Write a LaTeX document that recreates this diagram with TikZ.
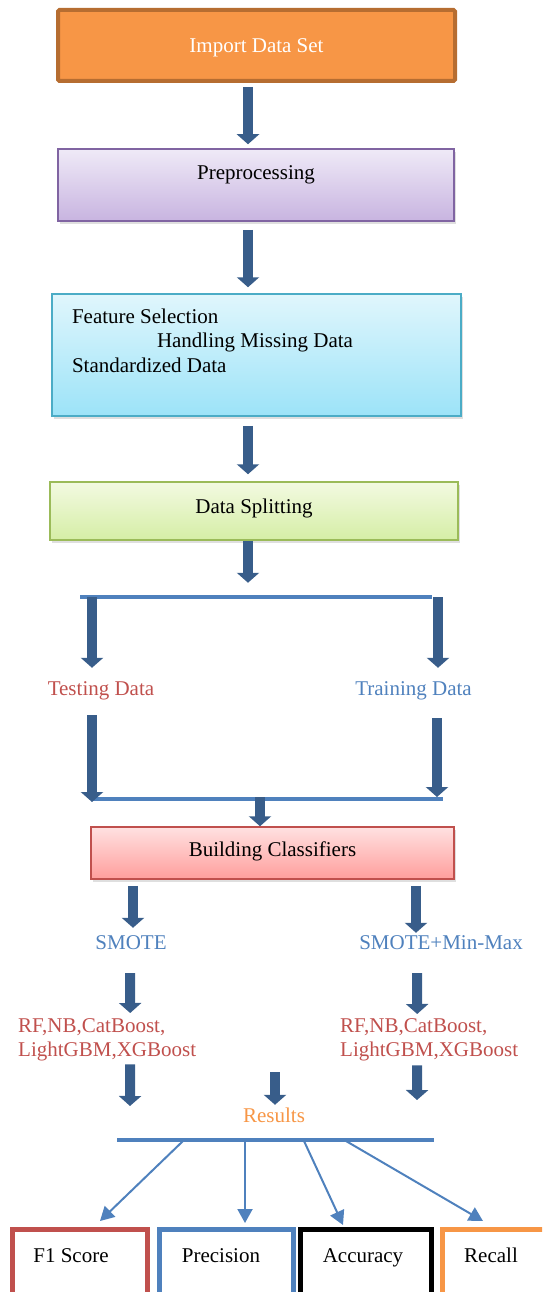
\documentclass[tikz,border=0pt]{standalone}
\usepackage{fontspec}
\setmainfont{Liberation Serif}
\usetikzlibrary{arrows.meta, shadows}

\definecolor{arrowblue}{HTML}{385D8A}
\definecolor{lineblue}{HTML}{4F81BD}
\definecolor{labelred}{HTML}{C0504D}
\definecolor{importfill}{HTML}{F79646}
\definecolor{importedge}{HTML}{B66D31}
\definecolor{prepedge}{HTML}{8064A2}
\definecolor{preptop}{HTML}{EFEAF7}
\definecolor{prepbot}{HTML}{C8B4E0}
\definecolor{featedge}{HTML}{4BACC6}
\definecolor{feattop}{HTML}{E0F6FC}
\definecolor{featbot}{HTML}{9CE3F8}
\definecolor{splitedge}{HTML}{9BBB59}
\definecolor{splittop}{HTML}{F3FAE1}
\definecolor{splitbot}{HTML}{D5EEA6}
\definecolor{buildtop}{HTML}{FFE1E1}
\definecolor{buildbot}{HTML}{FF9E9C}

\begin{document}
\begin{tikzpicture}[x=1pt, y=-1pt, font=\fontsize{21}{24.5}\selectfont,
    box/.style={rectangle, inner sep=0pt, text height=14pt},
    shadebox/.style={box, line width=1.5pt, drop shadow={shadow xshift=2pt, shadow yshift=-3pt, opacity=0.25}},
    block/.style={draw=arrowblue, line width=10pt, -{Triangle[width=22pt,length=10pt]}},
    bus/.style={draw=lineblue, line width=3.5pt},
    pointer/.style={draw=lineblue, line width=2pt, -{Triangle[width=15pt,length=14pt]}},
    tag/.style={inner sep=0pt, text height=14pt, text depth=0pt},
    metric/.style={box, fill=white, line width=5pt, minimum height=90pt, text depth=39pt}]
  \useasboundingbox (0,0) rectangle (542,1292);
  \clip (0,0) rectangle (542,1292);

  \node[box, fill=importfill, draw=importedge, line width=4pt, rounded corners=1.5pt, minimum width=397pt, minimum height=71pt, text=white, text depth=0pt] (import) at (256.5,45.5) {Import Data Set};
  \node[shadebox, draw=prepedge, top color=preptop, bottom color=prepbot, minimum width=396pt, minimum height=72pt, text depth=26pt] (prep) at (256,185) {Preprocessing};
  \node[shadebox, draw=featedge, top color=feattop, bottom color=featbot, minimum width=409pt, minimum height=122pt, text width=369pt, align=left, text depth=78pt] (feat) at (256.5,355) {\spaceskip=0.25em\relax Feature Selection\\\hspace*{85pt}Handling Missing Data\\Standardized Data};
  \node[shadebox, draw=splitedge, top color=splittop, bottom color=splitbot, minimum width=408pt, minimum height=58pt, text depth=10pt] (split) at (254,511) {Data Splitting};

  \node[tag, text=labelred] (test) at (101,688) {Testing Data};
  \node[tag, text=lineblue] (train) at (413.5,688) {Training Data};
  \node[shadebox, draw=labelred, top color=buildtop, bottom color=buildbot, minimum width=363pt, minimum height=52pt, text depth=8pt] (build) at (272.5,853) {Building Classifiers};

  \node[tag, text=lineblue] (smote) at (131,942) {SMOTE};
  \node[tag, text=lineblue] (smotemm) at (441,942) {SMOTE+Min-Max};
  \node[tag, text=labelred, text depth=25pt, text width=200pt, align=left, anchor=north west] (modelsL) at (18,1018) {RF,NB,CatBoost,\\LightGBM,XGBoost};
  \node[tag, text=labelred, text depth=25pt, text width=200pt, align=left, anchor=north west] (modelsR) at (340,1018) {RF,NB,CatBoost,\\LightGBM,XGBoost};
  \node[tag, text=importfill] (results) at (274,1115) {Results};

  \node[metric, draw=labelred, minimum width=135pt] (f1) at (80,1274.5) {F1 Score\hspace*{18pt}};
  \node[metric, draw=lineblue, minimum width=134pt] (prec) at (226.5,1274.5) {Precision\hspace*{11pt}};
  \node[metric, draw=black, minimum width=131pt] (acc) at (366,1274.5) {Accuracy\hspace*{6pt}};
  \node[metric, draw=importfill, minimum width=103pt] (rec) at (494,1274.5) {Recall\hspace*{6pt}};

  \coordinate (forkL) at (80,597);
  \coordinate (forkR) at (432,597);
  \coordinate (testIn) at (92,597);
  \coordinate (trainIn) at (438,597);
  \coordinate (mergeL) at (92,799);
  \coordinate (mergeR) at (443,799);
  \coordinate (mergeM) at (260,797);
  \coordinate (outL) at (130,1106);
  \coordinate (outM) at (275,1072);
  \coordinate (outR) at (417,1100);
  \coordinate (sumL) at (117,1140);
  \coordinate (sumR) at (434,1140);
  \coordinate (tapA) at (183,1141);
  \coordinate (tapB) at (245,1141);
  \coordinate (tapC) at (304,1141);
  \coordinate (tapD) at (346,1141);

  \draw[bus] (forkL) -- (forkR);
  \draw[bus] (mergeL) -- (mergeR);
  \draw[bus] (sumL) -- (sumR);

  \draw[block] ([xshift=-8.5pt,yshift=-4pt]import.south) -- ([xshift=-8pt,yshift=4pt]prep.north);
  \draw[block] ([xshift=-8pt,yshift=-8pt]prep.south) -- ([xshift=-8.5pt,yshift=6pt]feat.north);
  \draw[block] ([xshift=-8.5pt,yshift=-9pt]feat.south) -- ([xshift=-6pt,yshift=7pt]split.north);
  \draw[block] ([xshift=-6pt]split.south) -- ([xshift=-6pt,yshift=-42pt]split.south);
  \draw[block] (testIn) -- ([xshift=-9pt,yshift=13pt]test.north);
  \draw[block] (trainIn) -- ([xshift=24.5pt,yshift=13pt]train.north);
  \draw[block] ([xshift=-9pt,yshift=-20pt]test.south) -- ([yshift=-3pt]mergeL);
  \draw[block] ([xshift=23.5pt,yshift=-23pt]train.south) -- ([xshift=-6pt,yshift=2pt]mergeR);
  \draw[block] (mergeM) -- ([xshift=-12.5pt]build.north);
  \draw[block] ([xshift=-139.5pt,yshift=-6pt]build.south) -- ([xshift=2pt,yshift=7pt]smote.north);
  \draw[block] ([xshift=143.5pt,yshift=-6pt]build.south) -- ([xshift=-25pt,yshift=2pt]smotemm.north);
  \draw[block] ([xshift=-1pt,yshift=-24pt]smote.south) -- ([xshift=12pt,yshift=5pt]modelsL.north);
  \draw[block] ([xshift=-24pt,yshift=-24pt]smotemm.south) -- ([xshift=-23pt,yshift=4pt]modelsR.north);
  \draw[block] ([xshift=12pt,yshift=-7pt]modelsL.south) -- (outL);
  \draw[block] (outM) -- ([xshift=1pt,yshift=3pt]results.north);
  \draw[block] ([xshift=-23pt,yshift=-8pt]modelsR.south) -- (outR);

  \draw[pointer] (tapA) -- ([xshift=20pt,yshift=6pt]f1.north);
  \draw[pointer] (tapB) -- ([xshift=18.5pt,yshift=4pt]prec.north);
  \draw[pointer] (tapC) -- ([xshift=-23pt,yshift=2pt]acc.north);
  \draw[pointer] (tapD) -- ([xshift=-11pt,yshift=6pt]rec.north);
\end{tikzpicture}
\end{document}
